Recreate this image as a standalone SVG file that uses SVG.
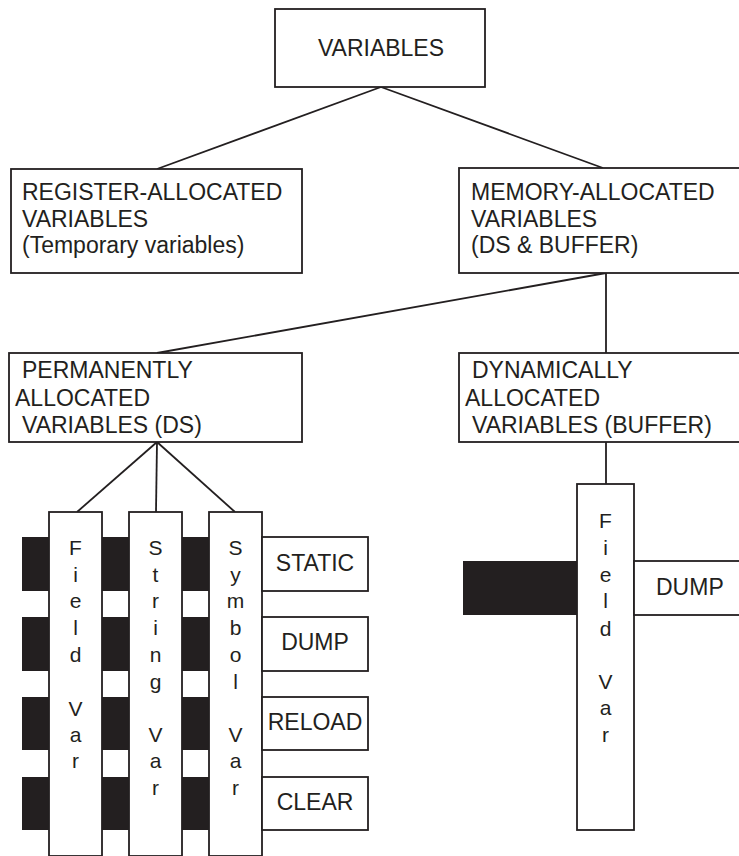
<svg xmlns="http://www.w3.org/2000/svg" width="739" height="856" viewBox="0 0 739 856">
<style>
.box{fill:#fff;stroke:#231f20;stroke-width:1.8}
.bar{fill:#231f20}
.t{font-family:"Liberation Sans",Arial,sans-serif;font-size:23px;fill:#231f20}
.c{font-family:"Liberation Sans",Arial,sans-serif;font-size:21px;fill:#231f20;text-anchor:middle}
.m{text-anchor:middle}
#connectors line{stroke:#231f20;stroke-width:1.8}
</style>
<rect width="739" height="856" fill="#fff"/>
<g id="connectors">
<line x1="381" y1="87" x2="157" y2="169"/>
<line x1="381" y1="87" x2="603" y2="168"/>
<line x1="606" y1="273" x2="157" y2="353"/>
<line x1="606" y1="273" x2="606" y2="353"/>
<line x1="157" y1="442" x2="77" y2="512"/>
<line x1="157" y1="442" x2="156" y2="512"/>
<line x1="157" y1="442" x2="235" y2="512"/>
<line x1="606" y1="442" x2="606" y2="484"/>
</g>
<g id="variables">
<rect class="box" x="275" y="9" width="210" height="78"/>
<text class="t m" x="381" y="56">VARIABLES</text>
</g>
<g id="register">
<rect class="box" x="11" y="169" width="291" height="104"/>
<text class="t" x="22" y="200">REGISTER-ALLOCATED</text>
<text class="t" x="22" y="227">VARIABLES</text>
<text class="t" x="22" y="253">(Temporary variables)</text>
</g>
<g id="memory">
<rect class="box" x="459" y="168" width="290" height="105"/>
<text class="t" x="471" y="200">MEMORY-ALLOCATED</text>
<text class="t" x="471" y="227">VARIABLES</text>
<text class="t" x="471" y="253">(DS &amp; BUFFER)</text>
</g>
<g id="permanent">
<rect class="box" x="9" y="353" width="293" height="89"/>
<text class="t" x="22" y="378">PERMANENTLY</text>
<text class="t" x="15" y="406">ALLOCATED</text>
<text class="t" x="22" y="433">VARIABLES (DS)</text>
</g>
<g id="dynamic">
<rect class="box" x="459" y="353" width="290" height="89"/>
<text class="t" x="472" y="378">DYNAMICALLY</text>
<text class="t" x="465" y="406">ALLOCATED</text>
<text class="t" x="472" y="433">VARIABLES (BUFFER)</text>
</g>
<g id="bars">
<rect class="bar" x="22" y="537" width="187" height="54"/>
<rect class="bar" x="22" y="617" width="187" height="54"/>
<rect class="bar" x="22" y="697" width="187" height="53"/>
<rect class="bar" x="22" y="777" width="187" height="53"/>
</g>
<g id="field-var">
<rect class="box" x="49" y="512" width="53" height="344"/>
<text class="c"><tspan x="75.5" y="555">F</tspan><tspan x="75.5" y="582">i</tspan><tspan x="75.5" y="608">e</tspan><tspan x="75.5" y="635">l</tspan><tspan x="75.5" y="662">d</tspan><tspan x="75.5" y="716">V</tspan><tspan x="75.5" y="742">a</tspan><tspan x="75.5" y="768">r</tspan></text>
</g>
<g id="string-var">
<rect class="box" x="129" y="512" width="53" height="344"/>
<text class="c"><tspan x="155.5" y="555">S</tspan><tspan x="155.5" y="582">t</tspan><tspan x="155.5" y="608">r</tspan><tspan x="155.5" y="635">i</tspan><tspan x="155.5" y="662">n</tspan><tspan x="155.5" y="689">g</tspan><tspan x="155.5" y="742">V</tspan><tspan x="155.5" y="768">a</tspan><tspan x="155.5" y="795">r</tspan></text>
</g>
<g id="symbol-var">
<rect class="box" x="209" y="512" width="53" height="344"/>
<text class="c"><tspan x="235.5" y="555">S</tspan><tspan x="235.5" y="582">y</tspan><tspan x="235.5" y="608">m</tspan><tspan x="235.5" y="635">b</tspan><tspan x="235.5" y="662">o</tspan><tspan x="235.5" y="689">l</tspan><tspan x="235.5" y="742">V</tspan><tspan x="235.5" y="768">a</tspan><tspan x="235.5" y="795">r</tspan></text>
</g>
<g id="static">
<rect class="box" x="262" y="537" width="106" height="54"/>
<text class="t m" x="315" y="571">STATIC</text>
</g>
<g id="dump">
<rect class="box" x="262" y="617" width="106" height="54"/>
<text class="t m" x="315" y="650">DUMP</text>
</g>
<g id="reload">
<rect class="box" x="262" y="697" width="106" height="53"/>
<text class="t m" x="315" y="730">RELOAD</text>
</g>
<g id="clear">
<rect class="box" x="262" y="777" width="106" height="53"/>
<text class="t m" x="315" y="810">CLEAR</text>
</g>
<g id="dyn-bar">
<rect class="bar" x="463" y="561" width="114" height="54"/>
</g>
<g id="dyn-field-var">
<rect class="box" x="577" y="484" width="57" height="346"/>
<text class="c"><tspan x="605.5" y="528">F</tspan><tspan x="605.5" y="555">i</tspan><tspan x="605.5" y="582">e</tspan><tspan x="605.5" y="608">l</tspan><tspan x="605.5" y="636">d</tspan><tspan x="605.5" y="689">V</tspan><tspan x="605.5" y="715">a</tspan><tspan x="605.5" y="742">r</tspan></text>
</g>
<g id="dyn-dump">
<rect class="box" x="634" y="561" width="115" height="54"/>
<text class="t" x="656" y="595">DUMP</text>
</g>
</svg>
